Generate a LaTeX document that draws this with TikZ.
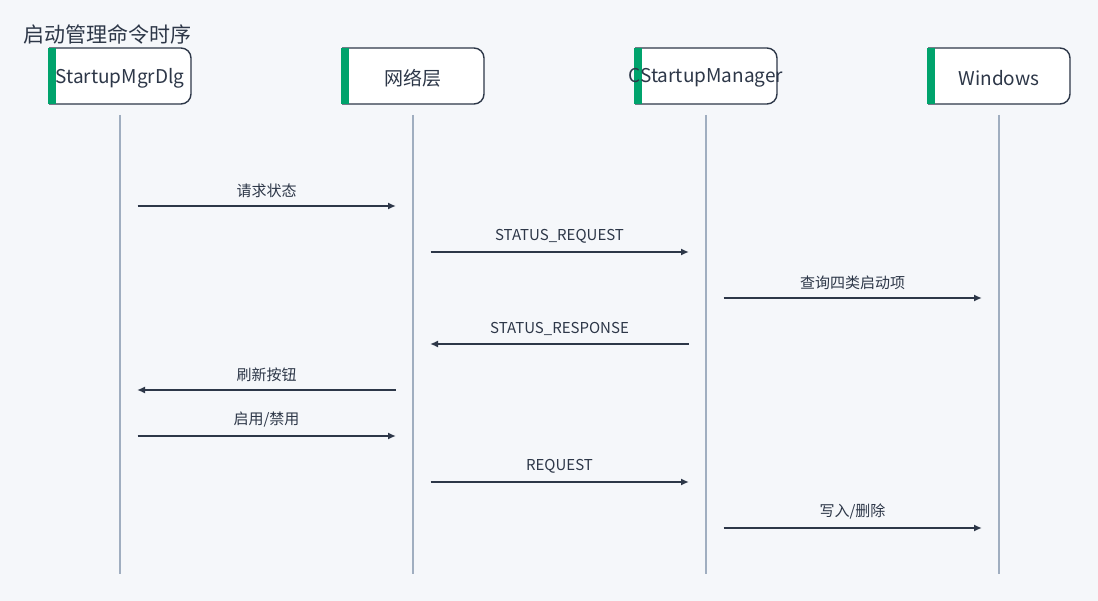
\documentclass[tikz,border=0pt]{standalone}
\usepackage{fontspec}
\setmainfont{Noto Sans CJK SC}
\usetikzlibrary{arrows.meta}
\begin{document}
\definecolor{bg}{HTML}{F5F7FA}
\definecolor{ink}{HTML}{2D3748}
\definecolor{life}{HTML}{A0AEC0}
\definecolor{grn}{HTML}{00A36C}
\begin{tikzpicture}[x=1pt,y=-1pt,
  msg/.style={draw=ink,line width=2pt,-{Latex[length=8pt,width=7pt]}},
  lbl/.style={font=\fontsize{15}{17}\selectfont,text=ink,above=4pt},
  head/.style={font=\fontsize{19}{21}\selectfont,text=ink,inner sep=0pt}]
\fill[bg] (0,0) rectangle (1098,601);
\useasboundingbox (0,0) rectangle (1098,601);
\node[anchor=west,font=\fontsize{21}{24}\selectfont,text=ink,inner sep=0pt] (title) at (23,34) {启动管理命令时序};
\foreach \n/\x/\t in {a/120/StartupMgrDlg,b/413/网络层,c/706/CStartupManager,d/999/Windows}{
  \fill[white] (\x-71,48) [rounded corners=10pt] -- (\x+71,48) -- (\x+71,104) [sharp corners] -- (\x-71,104) -- cycle;
  \draw[ink,line width=1.4pt] (\x-71,48) [rounded corners=10pt] -- (\x+71,48) -- (\x+71,104) [sharp corners] -- (\x-71,104);
  \fill[grn] (\x-72,48) rectangle (\x-64,104);
  \node[head] (h\n) at (\x,78) {\t};
  \coordinate (t\n) at (\x,115);
  \coordinate (e\n) at (\x,574);
  \draw[life,line width=1.4pt] (t\n) -- (e\n);
}
\foreach \i/\y/\f/\tt/\t in {1/206/120/413/{请求状态},2/252/413/706/{STATUS\_REQUEST},3/298/706/999/{查询四类启动项},4/344/706/413/{STATUS\_RESPONSE},5/390/413/120/{刷新按钮},6/436/120/413/{启用/禁用},7/482/413/706/{REQUEST},8/528/706/999/{写入/删除}}{
  \coordinate (s\i) at (\f,\y);
  \coordinate (r\i) at (\tt,\y);
  \draw[msg,shorten <=17.5pt,shorten >=17pt] (s\i) -- (r\i) node[midway,lbl] (m\i) {\t};
}
\end{tikzpicture}
\end{document}
